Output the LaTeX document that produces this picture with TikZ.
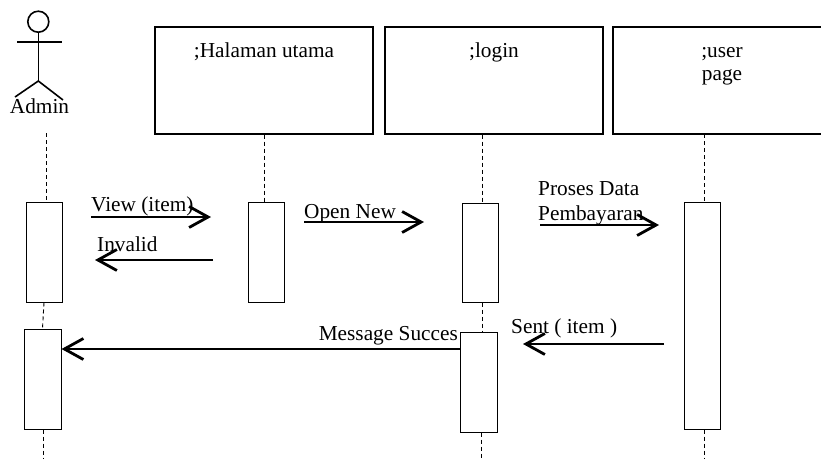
\documentclass[tikz,border=0pt]{standalone}
\usepackage{fontspec}
\setmainfont{Liberation Serif}
\usetikzlibrary{arrows.meta}
\begin{document}
\begin{tikzpicture}[x=1pt,y=-1pt,
  objbox/.style={draw, line width=1.1pt, minimum width=218pt, minimum height=107pt, inner sep=0pt},
  actbox/.style={draw, line width=1pt, fill=white, minimum width=36pt, inner sep=0pt},
  lbl/.style={inner sep=0pt, font=\fontsize{21.3}{24}\selectfont},
  lifeline/.style={line width=0.9pt, dash pattern=on 4pt off 3pt},
  msg/.style={line width=2.8pt, -{Straight Barb[length=19pt,width=21pt,line width=2.8pt]}},
  figure/.style={line width=1.6pt}
]
\useasboundingbox (0,0) rectangle (821,459);

% actor
\node[draw, circle, line width=1.6pt, minimum size=21pt, inner sep=0pt] (head) at (38.3,21.7) {};
\coordinate (hip) at (38.3,81);
\coordinate (armL) at (17,42);
\coordinate (armR) at (62,42);
\coordinate (legL) at (15,97);
\coordinate (legR) at (63,100);
\draw[figure] (head.south) -- (hip);
\draw[figure] (armL) -- (armR);
\draw[figure] (legL) -- (hip) -- (legR);
\node[lbl, anchor=base] (admintxt) at (39.5,113) {Admin};

% object boxes
\node[objbox] (hal) at (264,80.5) {};
\node[objbox] (log) at (494,80.5) {};
\node[objbox, minimum width=280pt] (usr) at (753,80.5) {};
\node[lbl, anchor=base] (haltxt) at (264,57) {;Halaman utama};
\node[lbl, anchor=base] (logtxt) at (494,57) {;login};
\node[lbl, anchor=base] (usrtxt1) at (722,57) {;user};
\node[lbl, anchor=base] (usrtxt2) at (722,80) {page};

% activation boxes
\node[actbox, minimum height=100pt] (a1) at (44,252) {};
\node[actbox, minimum height=100pt, minimum width=37pt] (a2) at (42.5,379) {};
\node[actbox, minimum height=100pt] (h1) at (266,252) {};
\node[actbox, minimum height=99pt] (l1) at (480,252.5) {};
\node[actbox, minimum height=100pt, minimum width=37pt] (l2) at (478.5,382) {};
\node[actbox, minimum height=227pt] (u1) at (702,315.5) {};

% lifelines
\coordinate (admtop) at (46,133);
\coordinate (admbot) at (43,459);
\coordinate (logbot) at (481,459);
\coordinate (usrtop) at (704,134);
\coordinate (usrbot) at (704,459);
\draw[lifeline] (admtop) -- (admtop |- a1.north);
\draw[lifeline] (a1.south) -- (a2.north);
\draw[lifeline] (a2.south -| admbot) -- (admbot);
\draw[lifeline] (hal.south) -- (hal.south |- h1.north);
\draw[lifeline] ([xshift=-12pt]log.south) -- ([xshift=-12pt]log.south |- l1.north);
\draw[lifeline] ([xshift=2pt]l1.south) -- ([xshift=2pt]l1.south |- l2.north);
\draw[lifeline] (logbot |- l2.south) -- (logbot);
\draw[lifeline] (usrtop) -- (usrtop |- u1.north);
\draw[lifeline] (usrbot |- u1.south) -- (usrbot);

% messages
\coordinate (v1) at (91,217);  \coordinate (v2) at (211,217);
\coordinate (i1) at (213,260); \coordinate (i2) at (95,260);
\coordinate (o1) at (304,222); \coordinate (o2) at (424,222);
\coordinate (p1) at (540,225); \coordinate (p2) at (659,225);
\coordinate (s1) at (664,344); \coordinate (s2) at (523,344);
\coordinate (m1) at (460,349);
\draw[msg] (v1) -- (v2);
\draw[msg] (i1) -- (i2);
\draw[msg] (o1) -- (o2);
\draw[msg] (p1) -- (p2);
\draw[msg] (s1) -- (s2);
\draw[msg] (m1) -- (a2.east |- m1);

% message labels
\node[lbl, anchor=base west] (vtxt) at (91,211) {View (item)};
\node[lbl, anchor=base west] (itxt) at (97,251) {Invalid};
\node[lbl, anchor=base west] (otxt) at (304,218) {Open New};
\node[lbl, anchor=base west] (ptxt1) at (538,195) {Proses Data};
\node[lbl, anchor=base west] (ptxt2) at (538,220) {Pembayaran};
\node[lbl, anchor=base west] (stxt) at (511,333) {Sent ( item )};
\node[lbl, anchor=base east] (mtxt) at (458,340) {Message Succes};
\end{tikzpicture}
\end{document}
